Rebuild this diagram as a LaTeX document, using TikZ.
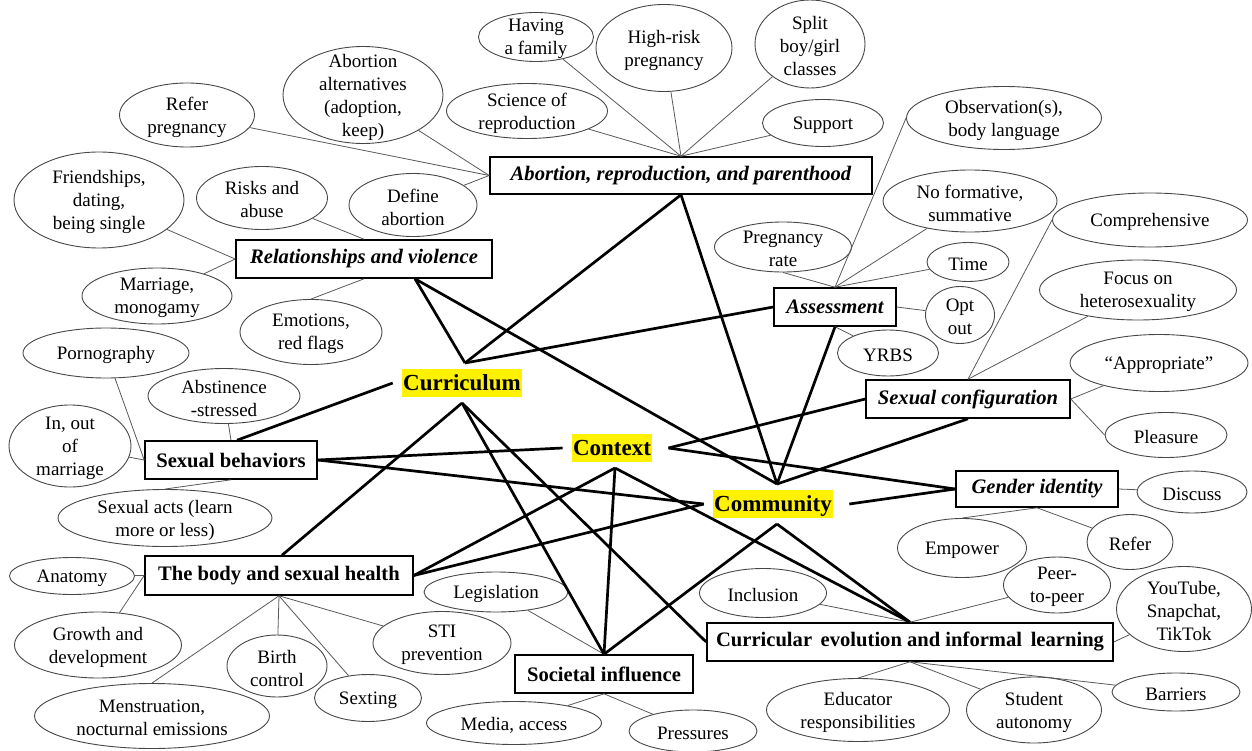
\documentclass[tikz,border=0pt]{standalone}
\usepackage{fontspec}
\setmainfont{Liberation Serif}
\usetikzlibrary{shapes.geometric}
\tikzset{
  ell/.style={draw=black!72, line width=0.9pt, ellipse, inner sep=0pt},
  etext/.style={align=center, font=\fontsize{19}{23}\selectfont, inner sep=0pt, yshift=-2pt},
  box/.style={draw=black, line width=1.6pt, rectangle, inner sep=0pt, font=\fontsize{20.6}{24}\selectfont\bfseries},
  boxi/.style={box, font=\fontsize{20.6}{24}\selectfont\bfseries\itshape},
  hub/.style={fill=yellow, font=\fontsize{23}{27}\selectfont\bfseries, inner xsep=1.5pt, inner ysep=0.5pt, text height=21pt, text depth=6pt, outer xsep=9pt, outer ysep=6pt},
  hubline/.style={line width=2.7pt, black},
  leaf/.style={draw=black!65, line width=0.8pt}
}
\newcommand\bub[5]{%
  \node[ell, minimum width=#3pt, minimum height=#4pt] (#1) at (#2) {};
  \node[etext] (#1-t) at (#1) {#5};
}
\begin{document}
\begin{tikzpicture}[x=1pt,y=-1pt]
\useasboundingbox (0,0) rectangle (1252,751);

% ---------- category boxes ----------
\node[boxi, minimum width=382pt, minimum height=37pt] (abort) at (681,175.5) {Abortion, reproduction, and parenthood};
\node[boxi, minimum width=256pt, minimum height=38pt] (rel) at (364,259) {Relationships and violence};
\node[boxi, minimum width=122pt, minimum height=38pt] (assess) at (835,307) {Assessment};
\node[boxi, minimum width=204pt, minimum height=38pt] (sexconf) at (968,399) {Sexual configuration};
\node[box, minimum width=172pt, minimum height=38pt] (sexb) at (231,460) {Sexual behaviors};
\node[boxi, minimum width=162pt, minimum height=36pt] (gender) at (1037,489) {Gender identity};
\node[box, minimum width=268pt, minimum height=39pt] (body) at (279,575.5) {The body and sexual health};
\node[box, minimum width=178pt, minimum height=38pt] (soc) at (604,674) {Societal influence};
\node[box, minimum width=406pt, minimum height=38pt] (curr) at (910,642) {Curricular\, evolution and informal\, learning};

% ---------- hubs ----------
\node[hub] (cur) at (462,383) {Curriculum};
\node[hub] (ctx) at (612,448) {Context};
\node[hub] (com) at (773,504) {Community};

% ---------- leaf ellipses ----------
\bub{refp}{187,115}{135}{64}{Refer\\pregnancy}
\bub{altern}{363,95}{160}{97}{Abortion\\alternatives\\(adoption,\\keep)}
\bub{family}{536,37}{115}{49}{Having\\a family}
\bub{hrisk}{664,48}{136}{87}{High-risk\\pregnancy}
\bub{split}{810,44}{110}{88}{Split\\boy/girl\\classes}
\bub{science}{527,111}{161}{55}{Science of\\reproduction}
\bub{support}{823,123}{121}{47}{Support}
\bub{obs}{1004,118}{195}{63}{Observation(s),\\body language}
\bub{friend}{99,200}{170}{96}{Friendships,\\dating,\\being single}
\bub{risks}{262,198}{131}{63}{Risks and\\abuse}
\bub{define}{413,205}{128}{63}{Define\\abortion}
\bub{nofor}{970,201}{174}{62}{No formative,\\summative}
\bub{preg}{783,247}{137}{50}{Pregnancy\\rate}
\bub{time}{968,262}{82}{39}{Time}
\bub{comp}{1150,220}{195}{54}{Comprehensive}
\bub{marr}{157,296}{150}{56}{Marriage,\\monogamy}
\bub{focus}{1138,290}{197}{60}{Focus on\\heterosexuality}
\bub{optout}{960,315}{69}{57}{Opt\\out}
\bub{emot}{311,332}{142}{65}{Emotions,\\red flags}
\bub{porn}{106,353}{166}{50}{Pornography}
\bub{yrbs}{888,353}{101}{46}{YRBS}
\bub{approp}{1159,363}{178}{57}{“Appropriate”}
\bub{abst}{224,396}{152}{55}{Abstinence\\-stressed}
\bub{inout}{70,446}{122}{82}{In, out\\of\\marriage}
\bub{pleas}{1166,435}{122}{45}{Pleasure}
\bub{discuss}{1192,492}{110}{42}{Discuss}
\bub{sexacts}{165,518}{214}{57}{Sexual acts (learn\\more or less)}
\bub{empower}{962,548}{129}{59}{Empower}
\bub{refer}{1130,542}{86}{55}{Refer}
\bub{anat}{72,576}{125}{37}{Anatomy}
\bub{legis}{496,592}{144}{40}{Legislation}
\bub{incl}{763,593}{127}{49}{Inclusion}
\bub{peer}{1057,585}{107}{56}{Peer-\\to-peer}
\bub{yt}{1184,609}{135}{85}{YouTube,\\Snapchat,\\TikTok}
\bub{growth}{98,645}{167}{66}{Growth and\\development}
\bub{sti}{442,643}{138}{63}{STI\\prevention}
\bub{birth}{277,666}{100}{62}{Birth\\control}
\bub{sext}{368,698}{107}{47}{Sexting}
\bub{menst}{152,716}{235}{65}{Menstruation,\\nocturnal emissions}
\bub{media}{514,723}{175}{43}{Media, access}
\bub{press}{693,731}{128}{42}{Pressures}
\bub{educ}{858,710}{183}{63}{Educator\\responsibilities}
\bub{student}{1034,710}{135}{66}{Student\\autonomy}
\bub{barr}{1176,692}{128}{38}{Barriers}

% ---------- thin leaf connectors ----------
\foreach \e in {family,hrisk,split,science,support} \draw[leaf] (abort.north) -- (\e);
\foreach \e in {refp,altern,define} \draw[leaf] (abort.west) -- (\e);
\draw[leaf] (rel.north) -- (risks);
\foreach \e in {friend,marr} \draw[leaf] (rel.west) -- (\e);
\draw[leaf] (rel.south) -- (emot.north);
\draw[leaf] (assess.north) -- (preg.south);
\draw[leaf] (assess.north) -- (nofor);
\draw[leaf] (assess.north) -- (obs.west);
\draw[leaf] (assess.north) -- (time);
\draw[leaf] (assess.east) -- (optout);
\draw[leaf] (assess.south) -- (yrbs);
\draw[leaf] (sexconf.north) -- (comp.west);
\draw[leaf] (sexconf.north) -- (focus);
\draw[leaf] (sexconf.east) -- (approp);
\draw[leaf] (sexconf.east) -- (pleas.west);
\draw[leaf] (gender.east) -- (discuss);
\draw[leaf] (gender.south) -- (empower.north);
\draw[leaf] (gender.south) -- (refer);
\draw[leaf] (curr.north) -- (incl);
\draw[leaf] (curr.north) -- (peer);
\draw[leaf] (curr.east) -- (yt);
\draw[leaf] (curr.south) -- (educ.north);
\draw[leaf] (curr.south) -- (student);
\draw[leaf] (curr.south) -- (barr);
\draw[leaf] (soc.north) -- (legis);
\draw[leaf] (soc.south) -- (media);
\draw[leaf] (soc.south) -- (press);
\draw[leaf] (body.west) -- (anat);
\draw[leaf] (body.west) -- (growth);
\draw[leaf] (body.south) -- (menst.north);
\draw[leaf] (body.south) -- (birth);
\draw[leaf] (body.south) -- (sext);
\draw[leaf] (body.south) -- (sti);
\draw[leaf] (sexb.west) -- (porn);
\draw[leaf] (sexb.west) -- (inout);
\draw[leaf] (sexb.north) -- (abst);
\draw[leaf] (sexb.south) -- (sexacts.north);

% ---------- thick hub connectors ----------
% Curriculum
\draw[hubline] ([xshift=3pt]cur.north) -- ([xshift=51pt]rel.south);
\draw[hubline] ([xshift=3pt]cur.north) -- (abort.south);
\draw[hubline] ([xshift=3pt]cur.north) -- (assess.west);
\draw[hubline] (cur.west) -- ([xshift=6pt]sexb.north);
\draw[hubline] (cur.south) -- ([xshift=3pt]body.north);
\draw[hubline] (cur.south) -- (soc.north);
\draw[hubline] (cur.south) -- (curr.west);
% Context
\draw[hubline] (ctx.west) -- (sexb.east);
\draw[hubline] ([xshift=7pt]ctx.east) -- (sexconf.west);
\draw[hubline] ([xshift=7pt]ctx.east) -- (gender.west);
\draw[hubline] ([xshift=3pt]ctx.south) -- (body.east);
\draw[hubline] ([xshift=3pt]ctx.south) -- (soc.north);
\draw[hubline] ([xshift=3pt]ctx.south) -- (curr.north);
% Community
\draw[hubline] (com.west) -- (sexb.east);
\draw[hubline] (com.west) -- (body.east);
\draw[hubline] ([xshift=7pt]com.east) -- (gender.west);
\draw[hubline] ([xshift=4pt]com.north) -- ([xshift=51pt]rel.south);
\draw[hubline] ([xshift=4pt]com.north) -- (abort.south);
\draw[hubline] ([xshift=4pt]com.north) -- (assess.south);
\draw[hubline] ([xshift=4pt]com.north) -- (sexconf.south);
\draw[hubline] ([xshift=4pt]com.south) -- (soc.north);
\draw[hubline] ([xshift=4pt]com.south) -- (curr.north);
\end{tikzpicture}
\end{document}
